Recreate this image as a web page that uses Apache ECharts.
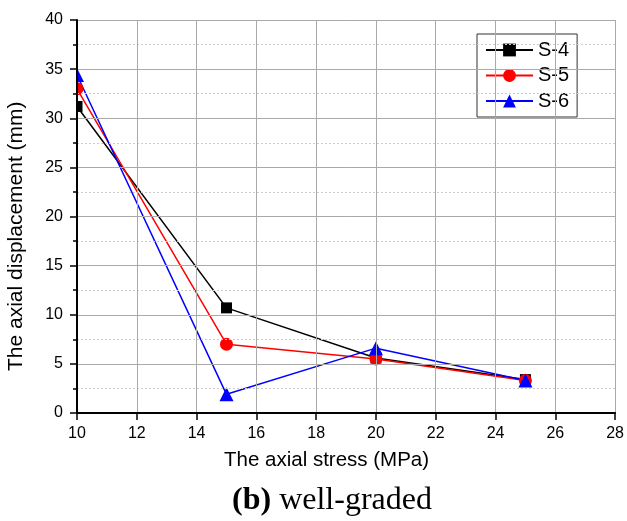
<!DOCTYPE html>
<html>
<head>
<meta charset="utf-8">
<script src="https://cdn.jsdelivr.net/npm/echarts@6/dist/echarts.min.js"></script>
<style>
  html, body { margin: 0; padding: 0; background: #fff; }
  #chart { width: 627px; height: 521px; }
</style>
</head>
<body>
<div id="chart"></div>
<script>
// axial stress (MPa)
var stress = [10, 15, 20, 25];
// axial displacement (mm)
var s4 = [31.2, 10.7, 5.6, 3.4];
var s5 = [33.0, 7.0, 5.5, 3.3];
var s6 = [34.4, 1.9, 6.6, 3.3];

var seriesNames = ['S-4', 'S-5', 'S-6'];
var seriesData = [s4, s5, s6];
var seriesColors = ['#000000', '#ff0000', '#0000ff'];
var seriesSymbols = ['rect', 'circle', 'triangle'];
var seriesSizes = [11, 13, 14];

function pairs(ys) {
    return stress.map(function (x, i) { return [x, ys[i]]; });
}

var chart = echarts.init(document.getElementById('chart'));

var font = 'Liberation Sans, Arial, sans-serif';

var option = {
    animation: false,
    grid: { left: 77, right: 10, top: 20, bottom: 108 },
    legend: {
        orient: 'vertical',
        left: 477,
        top: 34,
        width: 98,
        padding: [6, 8, 6, 8],
        itemGap: 5.5,
        itemWidth: 47,
        itemHeight: 16,
        borderColor: '#333',
        borderWidth: 1,
        backgroundColor: '#fff',
        textStyle: { fontFamily: font, fontSize: 20, color: '#000', padding: [0, 0, 0, 0] },
        data: seriesNames
    },
    title: {
        text: '{b|(b)} well-graded',
        left: 327,
        top: 480,
        textAlign: 'center',
        textStyle: {
            fontFamily: 'Liberation Serif, Times New Roman, serif',
            fontSize: 32,
            fontWeight: 'normal',
            color: '#000',
            rich: {
                b: {
                    fontFamily: 'Liberation Serif, Times New Roman, serif',
                    fontSize: 32,
                    fontWeight: 'bold',
                    color: '#000'
                }
            }
        }
    },
    xAxis: {
        type: 'value',
        min: 10,
        max: 28,
        interval: 2,
        z: 10,
        axisLine: { show: true, onZero: false, lineStyle: { color: '#000', width: 2 } },
        axisTick: { show: true, inside: false, length: 7, lineStyle: { color: '#000', width: 1.5 } },
        axisLabel: { fontFamily: font, fontSize: 16, color: '#000', margin: 13 },
        splitLine: { show: true, lineStyle: { color: '#aaaaaa', width: 1 } }
    },
    yAxis: {
        type: 'value',
        min: 0,
        max: 40,
        interval: 5,
        z: 10,
        axisLine: { show: true, onZero: false, lineStyle: { color: '#000', width: 2 } },
        axisTick: { show: true, inside: false, length: 7, lineStyle: { color: '#000', width: 1.5 } },
        minorTick: { show: true, splitNumber: 2, length: 4, lineStyle: { color: '#000', width: 1.5 } },
        axisLabel: { fontFamily: font, fontSize: 16, color: '#000', margin: 14 },
        splitLine: { show: true, lineStyle: { color: '#aaaaaa', width: 1 } },
        minorSplitLine: { show: true, lineStyle: { color: '#cccccc', width: 1, type: [2, 2] } }
    },
    graphic: [
        {
            // hides the left half of the markers at x = 10, like the source
            type: 'rect',
            z: 5,
            shape: { x: 40, y: 0, width: 36, height: 412 },
            style: { fill: '#fff' }
        },
        {
            type: 'text',
            z: 10,
            left: 224,
            top: 450,
            style: { text: 'The axial stress (MPa)', fontFamily: font, fontSize: 20.5, fill: '#000' }
        },
        {
            type: 'text',
            z: 10,
            x: 6,
            y: 371,
            rotation: Math.PI / 2,
            style: { text: 'The axial displacement (mm)', fontFamily: font, fontSize: 21, fill: '#000' }
        }
    ],
    series: seriesNames.map(function (name, i) {
        return {
            name: name,
            type: 'line',
            z: 2,
            clip: false,
            data: pairs(seriesData[i]),
            symbol: seriesSymbols[i],
            symbolSize: seriesSizes[i],
            color: seriesColors[i],
            lineStyle: { color: seriesColors[i], width: 1.5 },
            itemStyle: { color: seriesColors[i] }
        };
    })
};

chart.setOption(option);
</script>
</body>
</html>
